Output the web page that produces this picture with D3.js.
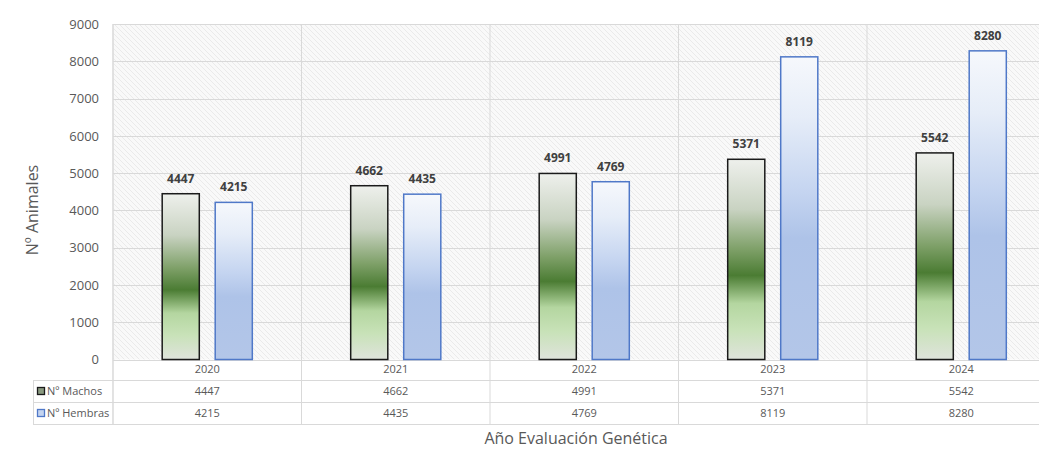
<!DOCTYPE html>
<html><head><meta charset="utf-8">
<script src="https://cdn.jsdelivr.net/npm/d3@7"></script>
<style>html,body{margin:0;padding:0;background:#fff;}svg{display:block;}</style>
</head><body>
<svg id="c" width="1039" height="450"></svg>
<script>
const years = ["2020","2021","2022","2023","2024"];
const machos = [4447,4662,4991,5371,5542];
const hembras = [4215,4435,4769,8119,8280];
const seriesNames = ["Nº Machos","Nº Hembras"];
const yTicks = [0,1000,2000,3000,4000,5000,6000,7000,8000,9000];
const yTitle = "Nº Animales";
const xTitle = "Año Evaluación Genética";

const svg = d3.select("#c");
const font = "'Open Sans', 'Noto Sans', sans-serif";
const pLeft = 113, bandW = 188.5, pTop = 24, pBottom = 359.5;
const x = d3.scaleBand().domain(years).range([pLeft, pLeft + bandW*years.length]).padding(0);
const xs = d3.scaleBand().domain(["m","h"]).range([0, bandW]).paddingInner(0.3).paddingOuter(0.928);
const y = d3.scaleLinear().domain([0,9000]).range([pBottom, pTop]);

const defs = svg.append("defs");
const pat = defs.append("pattern").attr("id","hatch").attr("patternUnits","userSpaceOnUse")
  .attr("width",5).attr("height",5);
pat.append("rect").attr("width",5).attr("height",5).attr("fill","#f9f9f9");
pat.append("path").attr("d","M-1,-1 l7,7 M-1,4 l2,2 M4,-1 l2,2").attr("stroke","#e4e4e4").attr("stroke-width",0.7);

const gG = defs.append("linearGradient").attr("id","gGreen").attr("x1",0).attr("y1",0).attr("x2",0).attr("y2",1);
[[0,"#eef0ec"],[0.25,"#c9d3c2"],[0.45,"#7ea068"],[0.58,"#4b7c33"],[0.72,"#b4d6a0"],[0.85,"#c8e2b8"],[1,"#dfe3dc"]]
  .forEach(s=>gG.append("stop").attr("offset",s[0]).attr("stop-color",s[1]));
const gB = defs.append("linearGradient").attr("id","gBlue").attr("x1",0).attr("y1",0).attr("x2",0).attr("y2",1);
[[0,"#f6f8fc"],[0.2,"#e6edf8"],[0.45,"#c4d4f0"],[0.6,"#aec3e8"],[1,"#b3c6e8"]]
  .forEach(s=>gB.append("stop").attr("offset",s[0]).attr("stop-color",s[1]));

// plot background
svg.append("rect").attr("x",pLeft).attr("y",pTop).attr("width",bandW*years.length).attr("height",pBottom-pTop).attr("fill","url(#hatch)");

// gridlines
svg.append("g").selectAll("line").data(yTicks).join("line")
  .attr("x1",pLeft).attr("x2",1039).attr("y1",d=>Math.round(y(d))+0.5).attr("y2",d=>Math.round(y(d))+0.5)
  .attr("stroke","#d9d9d9").attr("stroke-width",1.2);
svg.append("g").selectAll("line").data(years).join("line")
  .attr("x1",d=>x(d)).attr("x2",d=>x(d)).attr("y1",pTop).attr("y2",424.5)
  .attr("stroke","#d9d9d9").attr("stroke-width",1);

// y axis labels
const yAxis = d3.axisLeft(y).tickValues(yTicks).tickFormat(d3.format("d")).tickSize(0).tickPadding(14);
const ya = svg.append("g").attr("transform",`translate(${pLeft},0)`).call(yAxis);
ya.select(".domain").remove();
ya.selectAll("text").attr("font-family",font).attr("font-size",13).attr("fill","#595959");

// bars
const data = years.map((yr,i)=>({yr, m:machos[i], h:hembras[i]}));
const grp = svg.append("g").selectAll("g").data(data).join("g").attr("transform",d=>`translate(${x(d.yr)},0)`);
grp.append("rect").attr("x",xs("m")).attr("width",xs.bandwidth()).attr("y",d=>y(d.m)).attr("height",d=>y(0)-y(d.m))
  .attr("fill","url(#gGreen)").attr("stroke","#1a1a1a").attr("stroke-width",1.5);
grp.append("rect").attr("x",xs("h")).attr("width",xs.bandwidth()).attr("y",d=>y(d.h)).attr("height",d=>y(0)-y(d.h))
  .attr("fill","url(#gBlue)").attr("stroke","#4f78c8").attr("stroke-width",1.5);
grp.append("text").attr("x",xs("m")+xs.bandwidth()/2).attr("y",d=>y(d.m)-11).attr("text-anchor","middle")
  .attr("font-family",font).attr("font-size",12).attr("font-weight","bold").attr("fill","#404040").text(d=>d.m);
grp.append("text").attr("x",xs("h")+xs.bandwidth()/2).attr("y",d=>y(d.h)-11).attr("text-anchor","middle")
  .attr("font-family",font).attr("font-size",12).attr("font-weight","bold").attr("fill","#404040").text(d=>d.h);

// data table
const rowY = [380.5, 402.5, 424.5];
svg.append("g").selectAll("line").data(rowY).join("line")
  .attr("x1",33).attr("x2",1039).attr("y1",d=>d).attr("y2",d=>d).attr("stroke","#d9d9d9").attr("stroke-width",1.2);
svg.append("line").attr("x1",33.5).attr("x2",33.5).attr("y1",380.5).attr("y2",424.5).attr("stroke","#d9d9d9");
svg.append("line").attr("x1",pLeft).attr("x2",pLeft).attr("y1",pTop).attr("y2",424.5).attr("stroke","#d9d9d9");

const tf = {"font-family":font,"font-size":11,"fill":"#595959"};
function applyAttrs(sel,o){for(const k in o) sel.attr(k,o[k]); return sel;}
applyAttrs(svg.append("g").selectAll("text").data(years).join("text")
  .attr("x",d=>x(d)+bandW/2).attr("y",373).attr("text-anchor","middle").text(d=>d),tf);
applyAttrs(svg.append("g").selectAll("text").data(data).join("text")
  .attr("x",d=>x(d.yr)+bandW/2).attr("y",395).attr("text-anchor","middle").text(d=>d.m),tf);
applyAttrs(svg.append("g").selectAll("text").data(data).join("text")
  .attr("x",d=>x(d.yr)+bandW/2).attr("y",417).attr("text-anchor","middle").text(d=>d.h),tf);

// legend keys
svg.append("rect").attr("x",37.5).attr("y",387.5).attr("width",7).attr("height",7).attr("fill","#8a9a80").attr("stroke","#1a1a1a").attr("stroke-width",1.3);
svg.append("rect").attr("x",37.5).attr("y",409.5).attr("width",7).attr("height",7).attr("fill","#c4d4f0").attr("stroke","#4f78c8").attr("stroke-width",1.3);
applyAttrs(svg.append("text").attr("x",47).attr("y",395).text(seriesNames[0]),tf);
applyAttrs(svg.append("text").attr("x",47).attr("y",417).text(seriesNames[1]),tf);

// axis titles
svg.append("text").attr("transform","translate(38,210) rotate(-90)").attr("text-anchor","middle")
  .attr("font-family",font).attr("font-size",16).attr("fill","#595959").text(yTitle);
svg.append("text").attr("x",576).attr("y",444).attr("text-anchor","middle")
  .attr("font-family",font).attr("font-size",16).attr("fill","#595959").text(xTitle);
</script>
</body></html>
